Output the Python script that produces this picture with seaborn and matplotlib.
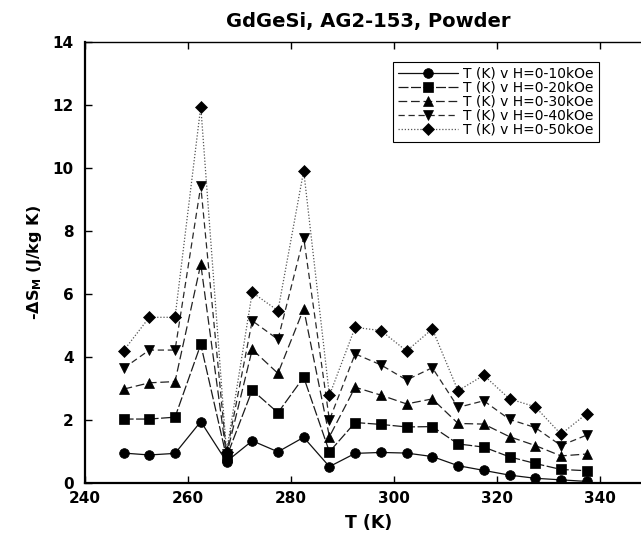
import matplotlib
matplotlib.use("Agg")
import matplotlib.pyplot as plt
import seaborn as sns

# Temperature grid (K)
temperature = [247.5, 252.5, 257.5, 262.5, 267.5, 272.5, 277.5, 282.5, 287.5, 292.5,
               297.5, 302.5, 307.5, 312.5, 317.5, 322.5, 327.5, 332.5, 337.5]

# Magnetic entropy change -dS_M (J/kg K) for each field change
ds_10kOe = [0.95, 0.89, 0.94, 1.95, 0.68, 1.34, 0.99, 1.45, 0.52, 0.94,
            0.97, 0.95, 0.84, 0.55, 0.40, 0.25, 0.15, 0.10, 0.05]
ds_20kOe = [2.03, 2.03, 2.09, 4.40, 0.82, 2.95, 2.23, 3.36, 0.99, 1.92,
            1.86, 1.78, 1.79, 1.24, 1.14, 0.83, 0.62, 0.43, 0.39]
ds_30kOe = [2.98, 3.18, 3.22, 6.95, 0.88, 4.24, 3.48, 5.53, 1.47, 3.04,
            2.79, 2.51, 2.67, 1.89, 1.87, 1.47, 1.19, 0.86, 0.92]
ds_40kOe = [3.64, 4.22, 4.22, 9.43, 0.93, 5.15, 4.56, 7.79, 2.00, 4.10,
            3.75, 3.27, 3.66, 2.40, 2.61, 2.02, 1.76, 1.19, 1.52]
ds_50kOe = [4.20, 5.26, 5.26, 11.95, 0.98, 6.05, 5.47, 9.91, 2.78, 4.94,
            4.84, 4.19, 4.89, 2.93, 3.42, 2.67, 2.42, 1.55, 2.20]

series_labels = ["T (K) v H=0-10kOe", "T (K) v H=0-20kOe", "T (K) v H=0-30kOe",
                 "T (K) v H=0-40kOe", "T (K) v H=0-50kOe"]
x_ticks = [240, 260, 280, 300, 320, 340]
y_ticks = [0, 2, 4, 6, 8, 10, 12, 14]

sns.set_style("ticks")
plt.rcParams["font.family"] = ["DejaVu Sans"]
plt.rcParams["mathtext.fontset"] = "dejavusans"
plt.rcParams["mathtext.default"] = "bf"
plt.rcParams["text.color"] = "black"
plt.rcParams["axes.labelcolor"] = "black"

fig = plt.figure(figsize=(6.41, 5.33), dpi=100)
ax = fig.add_axes([85 / 641, 1 - 483 / 533, 566 / 641, 441 / 533])

markers = ["o", "s", "^", "v", "D"]
linestyles = ["-", (0, (8, 2)), (0, (7, 3)), (0, (5, 3)), (0, (1, 1.5))]
line_colors = ["#111111", "#1a1a1a", "#222222", "#2a2a2a", "#555555"]

for vals, lab, mk, ls, lc in zip([ds_10kOe, ds_20kOe, ds_30kOe, ds_40kOe, ds_50kOe],
                                 series_labels, markers, linestyles, line_colors):
    sns.lineplot(x=temperature, y=vals, ax=ax, color=lc, linewidth=0.9,
                 linestyle=ls, marker=mk, markersize=7 if mk != "D" else 6.5,
                 markerfacecolor="black", markeredgecolor="black",
                 markeredgewidth=0.5, label=lab, legend=False)

ax.set_xlim(240, 350)
ax.set_ylim(0, 14)
ax.set_xticks(x_ticks)
ax.set_yticks(y_ticks)
ax.tick_params(direction="in", length=5, width=1, top=True, right=True,
               labelsize=11, colors="black")
ax.tick_params(axis="x", pad=6)
ax.tick_params(axis="y", pad=8)
for lbl in ax.get_xticklabels() + ax.get_yticklabels():
    lbl.set_fontweight("bold")

for side, lw in [("left", 1.6), ("bottom", 1.6), ("top", 1.0), ("right", 1.0)]:
    ax.spines[side].set_linewidth(lw)
    ax.spines[side].set_color("black")

fig.text(368 / 641, 1 - 21 / 533, "GdGeSi, AG2-153, Powder", ha="center",
         va="center", fontsize=14, fontweight="bold", color="black")
fig.text(369 / 641, 1 - 523 / 533, "T (K)", ha="center", va="center",
         fontsize=12.5, fontweight="bold", color="black")
fig.text(35 / 641, 1 - 263 / 533, r"-ΔS$_{M}$ (J/kg K)", ha="center",
         va="center", rotation=90, fontsize=11.5, fontweight="bold", color="black")

leg = ax.legend(loc="upper left", bbox_to_anchor=(393 / 641, 1 - 62 / 533),
                bbox_transform=fig.transFigure, fontsize=10, handlelength=4.3,
                handletextpad=0.4, labelspacing=0.0, borderpad=0.35,
                borderaxespad=0, frameon=True, fancybox=False, framealpha=1)
leg.get_frame().set_edgecolor("black")
leg.get_frame().set_linewidth(0.8)
for txt in leg.get_texts():
    txt.set_color("black")

fig.savefig("out.png", dpi=100)
